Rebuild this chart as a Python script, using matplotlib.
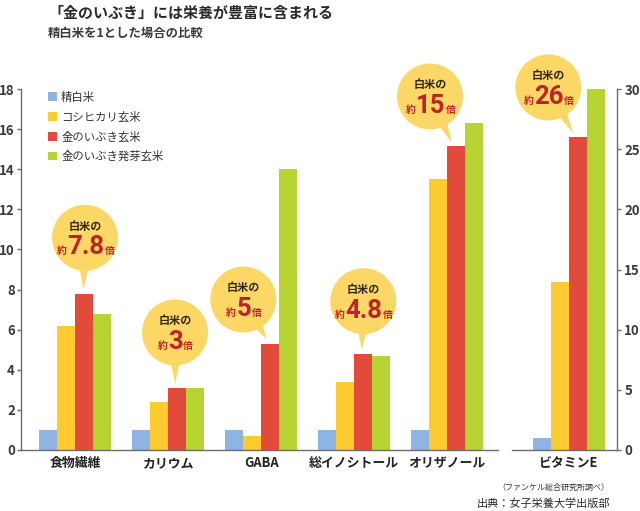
import matplotlib
matplotlib.use('Agg')
import matplotlib.pyplot as plt
from matplotlib.patches import Circle, Polygon, Patch
from matplotlib.transforms import IdentityTransform
import numpy as np

plt.rcParams['font.family'] = ['Noto Sans CJK JP', 'DejaVu Sans']

# ---------------- data ----------------
categories = ['食物繊維', 'カリウム', 'GABA', '総イノシトール', 'オリザノール']
series_names = ['精白米', 'コシヒカリ玄米', '金のいぶき玄米', '金のいぶき発芽玄米']
seihakumai = [1, 1, 1, 1, 1]
koshihikari = [6.2, 2.4, 0.7, 3.4, 13.5]
kinoibuki = [7.8, 3.1, 5.3, 4.8, 15.15]
hatsuga = [6.8, 3.1, 14.0, 4.7, 16.3]

vitE_category = 'ビタミンE'
vitE_values = [1, 14, 26, 30]

left_ticks = list(range(0, 19, 2))
right_ticks = list(range(0, 31, 5))

callout_numbers = ['7.8', '3', '5', '4.8', '15', '26']

title = '「金のいぶき」には栄養が豊富に含まれる'
subtitle = '精白米を1とした場合の比較'
note = '（ファンケル総合研究所調べ）'
source = '出典：女子栄養大学出版部'

# ---------------- style ----------------
colors = ['#8EB4E3', '#FCCB30', '#E24A3B', '#B7D433']
bubble_color = '#FBD866'
red_text = '#BF2329'
spine_color = '#6b6b6b'
text_color = '#333333'

W, H = 640, 511
fig = plt.figure(figsize=(W / 100, H / 100), dpi=100)


def px_axes(x0, x1, ytop, ybot):
    return fig.add_axes([x0 / W, 1 - ybot / H, (x1 - x0) / W, (ybot - ytop) / H])


ax = px_axes(21, 498, 89.5, 449.5)
ax2 = px_axes(511.5, 616.7, 89.5, 449.5)

w = 0.1935
offsets = (np.arange(4) - 1.5) * w
xs = np.arange(len(categories))
main_series = [seihakumai, koshihikari, kinoibuki, hatsuga]
for i, vals in enumerate(main_series):
    ax.bar(xs + offsets[i], vals, w, color=colors[i], linewidth=0)
for i, v in enumerate(vitE_values):
    ax2.bar([offsets[i]], [v], w, color=colors[i], linewidth=0)

ax.set_xlim(-0.584, 4.545)
ax.set_ylim(0, 18)
ax2.set_xlim(-0.618, 0.513)
ax2.set_ylim(0, 30)

for a, hide in ((ax, ('top', 'right')), (ax2, ('top', 'left'))):
    for s in hide:
        a.spines[s].set_visible(False)
    for s in a.spines.values():
        s.set_color(spine_color)
        s.set_linewidth(1.0)

ax.set_yticks(left_ticks)
ax.set_yticklabels([str(t) for t in left_ticks])
ax.tick_params(axis='y', direction='out', length=3, width=1, color=spine_color,
               labelsize=9.5, labelcolor='#3a3a3a', pad=1.5)
ax.set_xticks(xs)
ax.set_xticklabels(categories)
ax.tick_params(axis='x', length=0, pad=5, labelsize=9.3, labelcolor='#222222')

ax2.yaxis.tick_right()
ax2.set_yticks(right_ticks)
ax2.set_yticklabels([str(t) for t in right_ticks])
ax2.tick_params(axis='y', direction='out', length=3, width=1, color=spine_color,
                labelsize=9.5, labelcolor='#3a3a3a', pad=2.5)
ax2.set_xticks([0])
ax2.set_xticklabels([vitE_category])
ax2.tick_params(axis='x', length=0, pad=5, labelsize=9.3, labelcolor='#222222')

for a in (ax, ax2):
    for lab in a.get_xticklabels() + a.get_yticklabels():
        lab.set_fontweight('bold')

# legend
handles = [Patch(facecolor=c, edgecolor='none') for c in colors]
ax.legend(handles, series_names, loc='upper left',
          bbox_to_anchor=(48 / W, 1 - 91.5 / H), bbox_transform=fig.transFigure,
          frameon=False, fontsize=8.2, handlelength=0.8, handleheight=0.8,
          handletextpad=0.35, labelspacing=0.74, borderaxespad=0, borderpad=0,
          labelcolor=text_color)

# titles
fig.text(48 / W, 1 - 13 / H, title, ha='left', va='center', fontsize=10.8,
         fontweight='bold', color='#2a2a2a')
fig.text(48 / W, 1 - 33.5 / H, subtitle, ha='left', va='center', fontsize=8.9,
         fontweight='bold', color='#3a3a3a')
fig.text(609 / W, 1 - 487.7 / H, note, ha='right', va='center', fontsize=5.8,
         color=text_color)
fig.text(610 / W, 1 - 504 / H, source, ha='right', va='center', fontsize=8,
         color='#2a2a2a')

# ---------------- callouts ----------------
bubble_offsets = [(0.7, 55.7), (-2.3, 55), (-27, 44), (0, 52.3), (-26.3, 50), (-29.7, 50)]
tip_dx = [-1, -2, -3.6, -1.5, -4.6, -4.7]
radius = 33
idt = IdentityTransform()

anchors = [(ax, xs[i] + offsets[2], kinoibuki[i]) for i in range(len(categories))]
anchors.append((ax2, offsets[2], vitE_values[2]))

renderer = fig.canvas.get_renderer()
for k, ((a, bx, bv), label) in enumerate(zip(anchors, callout_numbers)):
    px, py = a.transData.transform((bx, bv))
    cx = px + bubble_offsets[k][0]
    cy = py + bubble_offsets[k][1]
    tx, ty = px + tip_dx[k], py + 4
    c = np.array([cx, cy])
    t = np.array([tx, ty])
    u = (t - c) / np.linalg.norm(t - c)
    p = np.array([-u[1], u[0]])
    base = c + u * (radius - 8)
    poly = Polygon([base + p * 5.5, t, base - p * 5.5], closed=True,
                   facecolor=bubble_color, edgecolor='none', transform=idt)
    fig.add_artist(poly)
    circ = Circle((cx, cy), radius, facecolor=bubble_color, edgecolor='none',
                  transform=idt)
    fig.add_artist(circ)
    fig.text(cx, cy + 11.6, '白米の', ha='center', va='center', fontsize=8,
             fontweight='bold', color='#33261a', transform=idt)
    num = fig.text(cx + 0.5, cy - 16.5, label, ha='center', va='baseline',
                   fontsize=18.5, fontweight='bold', color=red_text,
                   family=['Roboto', 'DejaVu Sans'], transform=idt)
    bb = num.get_window_extent(renderer=renderer)
    fig.text(bb.x0 - 0.5, cy - 16.5, '約', ha='right', va='baseline',
             fontsize=7, fontweight='bold', color=red_text, transform=idt)
    fig.text(bb.x1 + 0.5, cy - 16.5, '倍', ha='left', va='baseline',
             fontsize=7, fontweight='bold', color=red_text, transform=idt)

fig.savefig('out.png', dpi=100)
